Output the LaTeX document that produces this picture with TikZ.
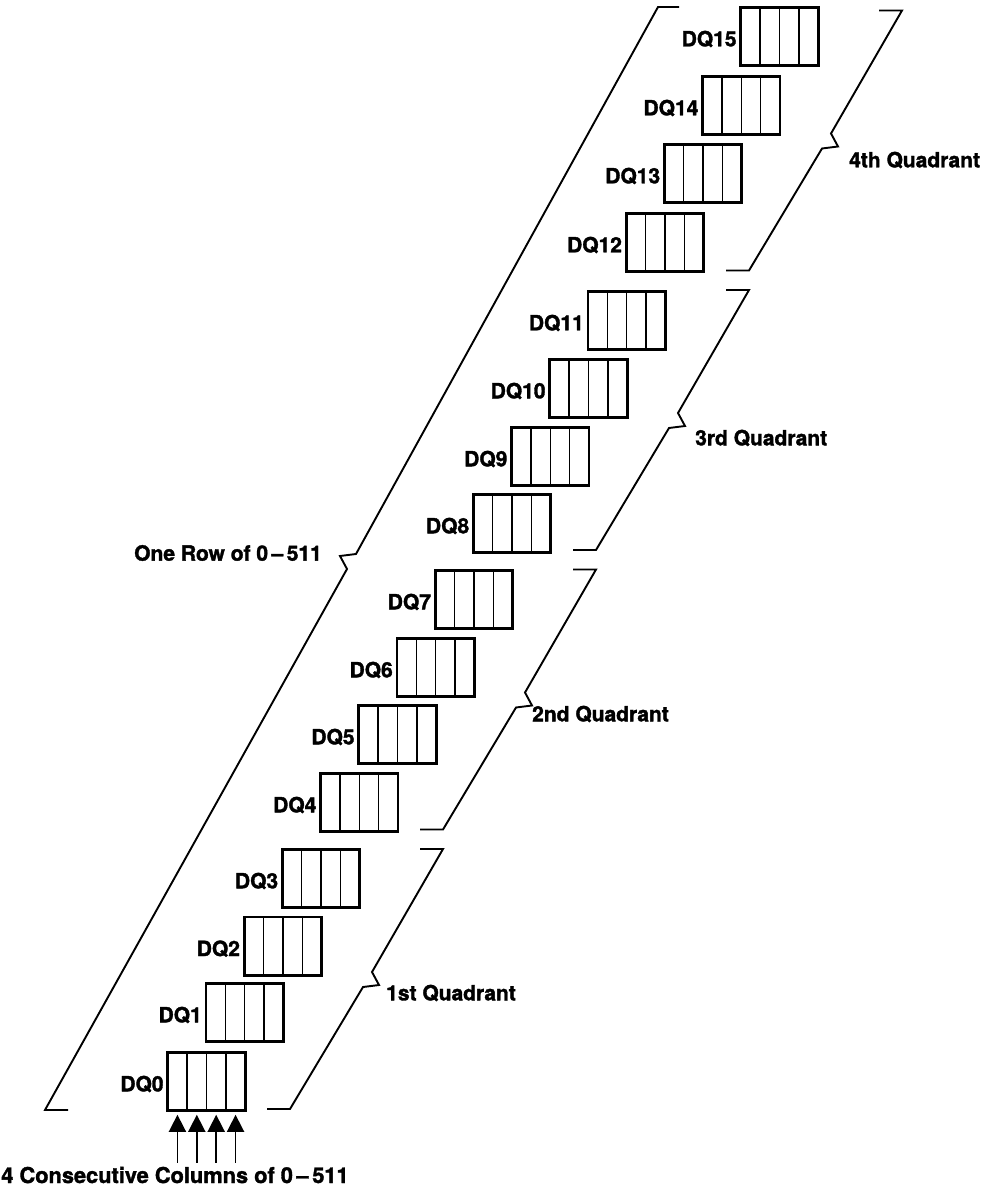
\documentclass[tikz,border=0pt]{standalone}
\usepackage{fontspec}
\setmainfont{TeX Gyre Heros}[BoldFeatures={FakeBold=1.6}]
\usetikzlibrary{calc,arrows.meta}
\begin{document}
\begin{tikzpicture}[x=1pt,y=-1pt,
  lbl/.style={font=\fontsize{21}{24}\selectfont\bfseries, inner sep=0pt},
  biglbl/.style={font=\fontsize{21.8}{25}\selectfont\bfseries, inner sep=0pt},
  dqbox/.style={draw, line width=2.8pt, minimum width=77.5pt, minimum height=58.5pt, inner sep=0pt, outer sep=0pt},
  divider/.style={line width=1.4pt},
  bracel/.style={line width=1.9pt, line join=miter},
  colarrow/.style={line width=1.6pt, -{Triangle[width=17pt,length=17pt]}}
]
\useasboundingbox (0,0) rectangle (982,1190);

% DQ boxes with their four cells
\foreach \i/\t in {0/1051,1/982,2/915.7,3/848,4/772,5/704,6/637,7/569,8/493,9/426,10/358,11/290,12/212,13/143,14/75,15/6} {
  \node[dqbox] (dq\i) at ({206.5+38.2*\i},{\t+30.5}) {};
  \foreach \f in {0.25,0.5,0.75}
    \draw[divider] ($(dq\i.north west)!\f!(dq\i.north east)$) -- ($(dq\i.south west)!\f!(dq\i.south east)$);
  \node[lbl, anchor=east] (l\i) at ($(dq\i.west)+(-4,2.5)$) {DQ\i};
}

% quadrant braces (right side)
\foreach \q in {0,...,3} {
  \begin{scope}[shift={(153*\q,-279.5*\q)}]
    \draw[bracel] (420,849) -- (443,849) -- (372,972) -- (379,985) -- (363,987) -- (290,1109) -- (267,1109);
  \end{scope}
}
\node[lbl, anchor=west] (q1) at (386,993) {1st Quadrant};
\node[lbl, anchor=west] (q2) at (532,714) {2nd Quadrant};
\node[lbl, anchor=west] (q3) at (695,438) {3rd Quadrant};
\node[lbl, anchor=west] (q4) at (849,160) {4th Quadrant};

% row brace (left side)
\draw[bracel] (68,1110) -- (45,1110) -- (347,569) -- (340,556) -- (356,554) -- (658,7) -- (679,7);
\node[lbl, anchor=east] (row) at (322,553) {One Row of 0\,--\,511};

% column arrows
\foreach \k/\f in {1/0.125,2/0.375,3/0.625,4/0.875} {
  \coordinate (t\k) at ($(dq0.south west)!\f!(dq0.south east)+(0,4)$);
  \coordinate (s\k) at ($(dq0.south west)!\f!(dq0.south east)+(0,52)$);
  \draw[colarrow] (s\k) -- (t\k);
}
\node[biglbl, anchor=center] (cols) at (175,1175) {4 Consecutive Columns of 0\,--\,511};
\end{tikzpicture}
\end{document}
